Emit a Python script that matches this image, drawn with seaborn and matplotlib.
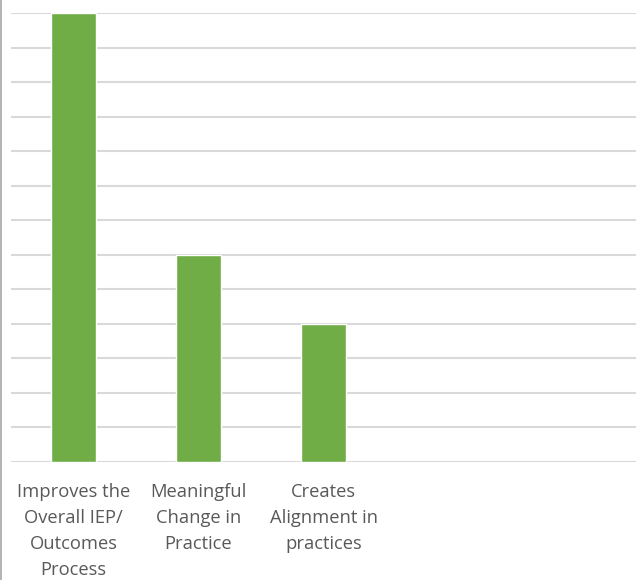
import matplotlib
matplotlib.use("Agg")
import matplotlib.pyplot as plt
import seaborn as sns
import pandas as pd
from matplotlib.lines import Line2D

categories = ["Improves the\nOverall IEP/\nOutcomes\nProcess", "Meaningful\nChange in\nPractice", "Creates\nAlignment in\npractices"]
values = [13, 6, 4]

sns.set_theme(style="white")
plt.rcParams['font.family'] = ['Open Sans', 'DejaVu Sans']

W, H = 637, 580
fig = plt.figure(figsize=(W/100, H/100), dpi=100)
ax = fig.add_axes([11/W, 1-462/H, (636-11)/W, (462-13)/H])

df = pd.DataFrame({"cat": categories, "val": values})
sns.barplot(data=df, x="cat", y="val", color="#70ad47", width=0.36, saturation=1, ax=ax, zorder=3)

ax.set_xlim(-0.5, 4.5)
ax.set_ylim(0, 13)
ax.set_yticks(range(0, 14))
ax.set_yticklabels([])
ax.yaxis.grid(True, color="#d9d9d9", linewidth=1.5)
ax.set_axisbelow(True)
for s in ax.spines.values():
    s.set_visible(False)
ax.tick_params(axis="both", length=0)
ax.tick_params(axis="x", pad=15, labelsize=13.2, labelcolor="#595959")
for t in ax.get_xticklabels():
    t.set_linespacing(1.58)
    t.set_verticalalignment("top")
ax.set_xlabel("")
ax.set_ylabel("")

fig.add_artist(Line2D([1.5/W, 1.5/W], [0, 1], color="#a6a6a6", linewidth=1.2, transform=fig.transFigure))

fig.savefig("out.png", dpi=100)
